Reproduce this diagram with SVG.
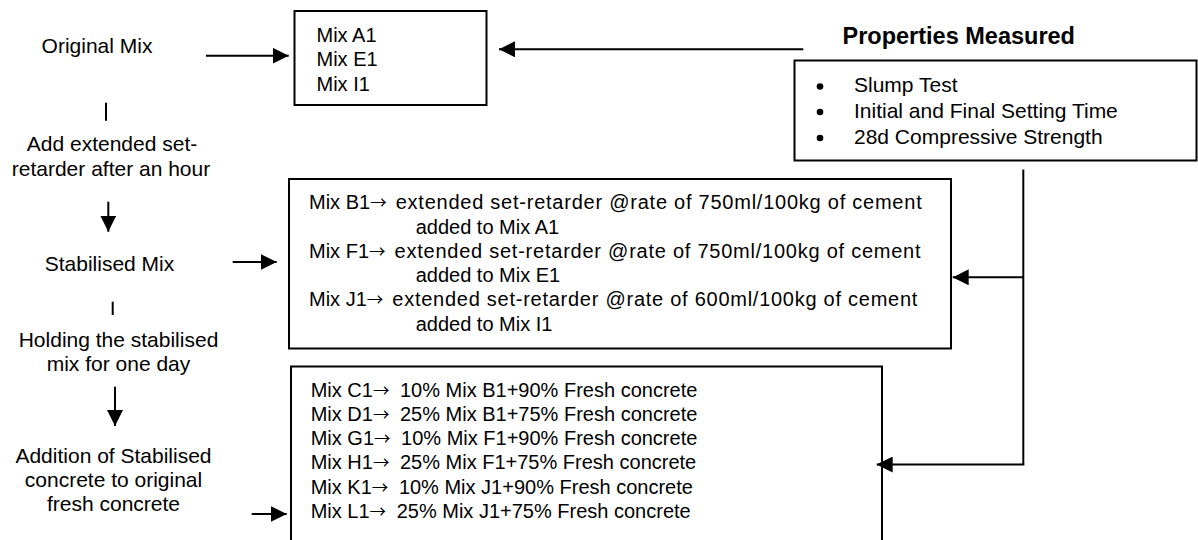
<svg xmlns="http://www.w3.org/2000/svg" width="1198" height="540" viewBox="0 0 1198 540">
<defs>
<style>
text{font-family:"Liberation Sans",Arial,sans-serif;fill:#000}
.l{font-size:21px;text-anchor:middle}
.b{font-size:20px}
.p{font-size:21px}
.t{font-size:23.5px;font-weight:bold}
.ar{font-family:"Noto Sans CJK SC",sans-serif;font-size:16.5px}
.box{fill:#fff;stroke:#000;stroke-width:2}
.c{stroke:#000;stroke-width:2;fill:none}
.a{marker-end:url(#ah)}
</style>
<marker id="ah" viewBox="0 0 16 16" refX="16" refY="8" markerWidth="16" markerHeight="16" markerUnits="userSpaceOnUse" orient="auto">
<path d="M0,0 L16,8 L0,16 z" fill="#000"/>
</marker>
</defs>
<rect width="1198" height="540" fill="#fff"/>

<g id="step-original"><text class="l" x="97" y="53">Original Mix</text></g>
<g id="step-add"><text class="l" x="112" y="151">Add extended set-</text><text class="l" x="111" y="175.5">retarder after an hour</text></g>
<g id="step-stabilised"><text class="l" x="109.5" y="270.5">Stabilised Mix</text></g>
<g id="step-holding"><text class="l" x="118.5" y="347">Holding the stabilised</text><text class="l" x="118.5" y="370.5">mix for one day</text></g>
<g id="step-addition"><text class="l" x="113.5" y="463">Addition of Stabilised</text><text class="l" x="113.5" y="487">concrete to original</text><text class="l" x="113.5" y="511">fresh concrete</text></g>

<g id="box-original">
<rect class="box" x="294.5" y="11" width="192" height="94"/>
<text class="b" x="316.5" y="41.5">Mix A1</text>
<text class="b" x="316.5" y="66">Mix E1</text>
<text class="b" x="316.5" y="90.5">Mix I1</text>
</g>

<g id="properties">
<text class="t" x="842.5" y="44.3">Properties Measured</text>
<rect class="box" x="794.5" y="60.5" width="402" height="100"/>
<circle cx="820" cy="86.5" r="3.3"/><circle cx="820" cy="112" r="3.3"/><circle cx="820" cy="138" r="3.3"/>
<text class="p" x="854" y="91.7">Slump Test</text>
<text class="p" x="854" y="117.5">Initial and Final Setting Time</text>
<text class="p" x="854" y="143.5">28d Compressive Strength</text>
</g>

<g id="box-stabilised">
<rect class="box" x="289" y="179" width="662" height="169.5"/>
<text class="b" x="309" y="209.3">Mix B1<tspan class="ar">→</tspan> <tspan dx="3.5" textLength="526" lengthAdjust="spacing">extended set-retarder @rate of 750ml/100kg of cement</tspan></text>
<text class="b" x="415.7" y="233.5">added to Mix A1</text>
<text class="b" x="309" y="257.8">Mix F1<tspan class="ar">→</tspan> <tspan dx="3.5" textLength="526" lengthAdjust="spacing">extended set-retarder @rate of 750ml/100kg of cement</tspan></text>
<text class="b" x="415.7" y="282">added to Mix E1</text>
<text class="b" x="309" y="306.3">Mix J1<tspan class="ar">→</tspan> <tspan dx="3.5" textLength="525" lengthAdjust="spacing">extended set-retarder @rate of 600ml/100kg of cement</tspan></text>
<text class="b" x="415.7" y="330.5">added to Mix I1</text>
</g>

<g id="box-blends">
<rect class="box" x="291" y="366.5" width="591" height="200"/>
<text class="b" x="310.7" y="396.5">Mix C1<tspan class="ar">→</tspan> <tspan dx="5">10% Mix B1+90% Fresh concrete</tspan></text>
<text class="b" x="310.7" y="420.8">Mix D1<tspan class="ar">→</tspan> <tspan dx="5">25% Mix B1+75% Fresh concrete</tspan></text>
<text class="b" x="310.7" y="445.1">Mix G1<tspan class="ar">→</tspan> <tspan dx="5">10% Mix F1+90% Fresh concrete</tspan></text>
<text class="b" x="310.7" y="469.4">Mix H1<tspan class="ar">→</tspan> <tspan dx="5">25% Mix F1+75% Fresh concrete</tspan></text>
<text class="b" x="310.7" y="493.7">Mix K1<tspan class="ar">→</tspan> <tspan dx="5">10% Mix J1+90% Fresh concrete</tspan></text>
<text class="b" x="310.7" y="518">Mix L1<tspan class="ar">→</tspan> <tspan dx="5">25% Mix J1+75% Fresh concrete</tspan></text>
</g>

<g id="connectors">
<line class="c a" x1="206" y1="55.7" x2="288.7" y2="55.7"/>
<line class="c" x1="106" y1="102.7" x2="106" y2="120.7"/>
<line class="c a" x1="108.3" y1="201.7" x2="108.3" y2="231.7"/>
<line class="c a" x1="232.7" y1="262" x2="276.7" y2="262"/>
<line class="c" x1="112.7" y1="301.7" x2="112.7" y2="315"/>
<line class="c a" x1="115" y1="386.7" x2="115" y2="426"/>
<line class="c a" x1="251.7" y1="514" x2="286.7" y2="514"/>
<line class="c a" x1="803.3" y1="49.3" x2="499" y2="49.3"/>
<polyline class="c" points="1023.3,169.5 1023.3,464.5"/>
<line class="c a" x1="1023.3" y1="277.3" x2="952.7" y2="277.3"/>
<line class="c a" x1="1024.3" y1="464.5" x2="876.7" y2="464.5"/>
</g>
</svg>
